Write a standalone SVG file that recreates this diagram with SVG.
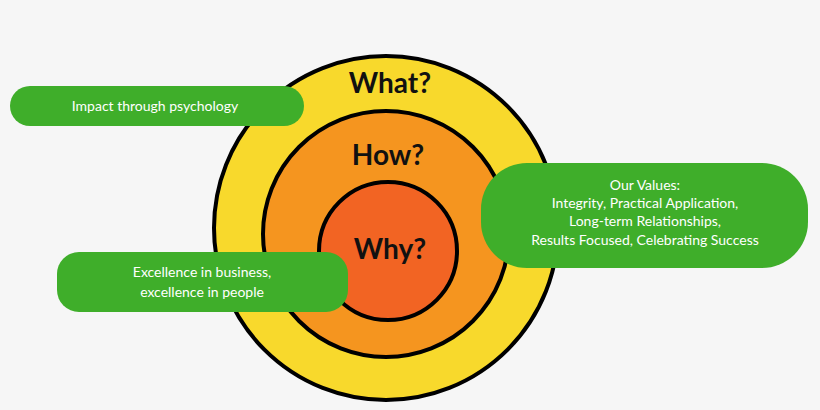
<svg xmlns="http://www.w3.org/2000/svg" width="820" height="410" viewBox="0 0 820 410">
<style>
.ring{stroke:#000;stroke-width:4}
.box{fill:#3fae2a}
.t{font-family:"Lato","Liberation Sans",sans-serif;font-size:14px;fill:#fff;text-anchor:middle}
.h{font-family:"Lato","Liberation Sans",sans-serif;font-weight:bold;font-size:28px;fill:#111;text-anchor:middle}
</style>
<rect width="820" height="410" fill="#f6f6f6"/>
<g id="what"><circle class="ring" cx="386" cy="228" r="172" fill="#f8d92c"/><text class="h" x="390" y="93">What?</text></g>
<g id="how"><circle class="ring" cx="386" cy="234" r="123" fill="#f5951f"/><text class="h" x="388" y="165">How?</text></g>
<g id="why"><circle class="ring" cx="388" cy="251" r="69" fill="#f26423"/><text class="h" x="390" y="259">Why?</text></g>
<g id="impact"><rect class="box" x="10" y="86" width="294" height="40" rx="20"/><text class="t" x="155" y="111">Impact through psychology</text></g>
<g id="excellence"><rect class="box" x="57" y="252" width="291" height="60" rx="22"/><text class="t" x="202" y="277">Excellence in business,</text><text class="t" x="202" y="297">excellence in people</text></g>
<g id="values"><rect class="box" x="481" y="163" width="327" height="105" rx="46"/><text class="t" x="645" y="190">Our Values:</text><text class="t" x="645" y="208">Integrity, Practical Application,</text><text class="t" x="645" y="226">Long-term Relationships,</text><text class="t" x="645" y="245">Results Focused, Celebrating Success</text></g>
<g id="connectors"/>
</svg>
